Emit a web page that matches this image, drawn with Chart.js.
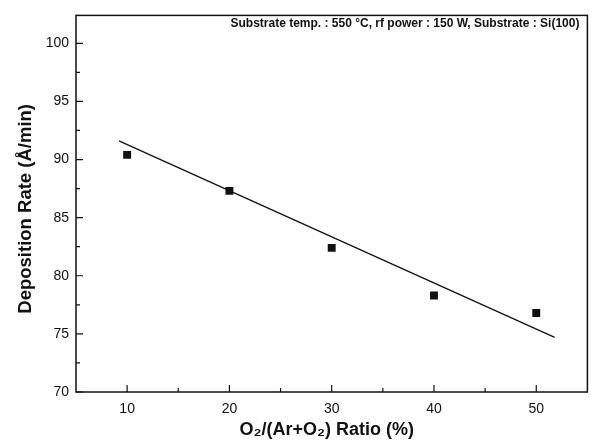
<!DOCTYPE html>
<html>
<head>
<meta charset="utf-8">
<script src="https://cdn.jsdelivr.net/npm/chart.js@4.4.0/dist/chart.umd.min.js"></script>
<style>
  html, body { margin: 0; padding: 0; background: #fff; }
  #wrap { width: 593px; height: 445px; position: relative; }
</style>
</head>
<body>
<div id="wrap"><canvas id="depChart"></canvas></div>
<script>
// values
const ratioPct = [10, 20, 30, 40, 50];
const depRate = [90.4, 87.3, 82.4, 78.3, 76.8];
// linear fit line end points
const fitX = [9.2, 51.8];
const fitY = [91.6, 74.7];

const xTicks = [10, 20, 30, 40, 50];
const xMinorTicks = [15, 25, 35, 45];
const yTicks = [70, 75, 80, 85, 90, 95, 100];
const yMinorTicks = [72.5, 77.5, 82.5, 87.5, 92.5, 97.5];
const noteText = 'Substrate temp. : 550 \u00B0C, rf power : 150 W, Substrate : Si(100)';

const FONT = "'Liberation Sans', Arial, sans-serif";
const INK = '#111';

// box frame + inward tick marks + the condition note
const frameTicks = {
  id: 'frameTicks',
  afterDraw(chart) {
    const { ctx, chartArea: a, scales } = chart;
    ctx.save();
    ctx.strokeStyle = INK;
    ctx.lineWidth = 1.5;
    ctx.strokeRect(a.left, a.top, a.right - a.left, a.bottom - a.top);

    ctx.lineWidth = 1.2;
    ctx.beginPath();
    xTicks.forEach(v => {
      const px = scales.x.getPixelForValue(v);
      ctx.moveTo(px, a.bottom); ctx.lineTo(px, a.bottom - 7);
    });
    xMinorTicks.forEach(v => {
      const px = scales.x.getPixelForValue(v);
      ctx.moveTo(px, a.bottom); ctx.lineTo(px, a.bottom - 4);
    });
    yTicks.forEach(v => {
      const py = scales.y.getPixelForValue(v);
      ctx.moveTo(a.left, py); ctx.lineTo(a.left + 7, py);
    });
    yMinorTicks.forEach(v => {
      const py = scales.y.getPixelForValue(v);
      ctx.moveTo(a.left, py); ctx.lineTo(a.left + 4, py);
    });
    ctx.stroke();

    ctx.fillStyle = INK;
    ctx.font = 'bold 12px ' + FONT;
    ctx.textAlign = 'right';
    ctx.textBaseline = 'middle';
    ctx.fillText(noteText, a.right - 8, a.top + 8);
    ctx.restore();
  }
};

new Chart(document.getElementById('depChart').getContext('2d'), {
  type: 'scatter',
  data: {
    datasets: [
      {
        label: 'Deposition rate',
        data: ratioPct.map((x, i) => ({ x: x, y: depRate[i] })),
        pointStyle: 'rect',
        pointRadius: 5.6,
        backgroundColor: INK,
        borderColor: INK,
        borderWidth: 0,
        showLine: false
      },
      {
        label: 'Linear fit',
        data: fitX.map((x, i) => ({ x: x, y: fitY[i] })),
        showLine: true,
        pointRadius: 0,
        borderColor: INK,
        borderWidth: 1.3,
        fill: false
      }
    ]
  },
  plugins: [frameTicks],
  options: {
    responsive: true,
    maintainAspectRatio: false,
    animation: false,
    layout: { padding: { top: 10, right: 1, left: 0, bottom: 0 } },
    plugins: {
      legend: { display: false },
      tooltip: { enabled: false }
    },
    scales: {
      x: {
        type: 'linear',
        min: 5,
        max: 55,
        afterBuildTicks: scale => { scale.ticks = xTicks.map(v => ({ value: v })); },
        afterFit: scale => { scale.height = 53; },
        grid: { display: false, drawTicks: false },
        border: { display: false },
        ticks: {
          color: INK,
          padding: 9,
          font: { family: FONT, size: 14 }
        },
        title: {
          display: true,
          text: 'O\u2082/(Ar+O\u2082) Ratio (%)  ',
          color: INK,
          padding: { top: 0, bottom: 4 },
          font: { family: FONT, size: 18, weight: 'bold' }
        }
      },
      y: {
        type: 'linear',
        min: 70,
        max: 102.4,
        afterBuildTicks: scale => { scale.ticks = yTicks.map(v => ({ value: v })); },
        afterFit: scale => { scale.width = 76; },
        grid: { display: false, drawTicks: false },
        border: { display: false },
        ticks: {
          color: INK,
          padding: 7,
          font: { family: FONT, size: 14 }
        },
        title: {
          display: true,
          text: 'Deposition Rate (\u00C5/min)  ',
          color: INK,
          padding: { top: 15, bottom: 0 },
          font: { family: FONT, size: 18.5, weight: 'bold' }
        }
      }
    }
  }
});
</script>
</body>
</html>
